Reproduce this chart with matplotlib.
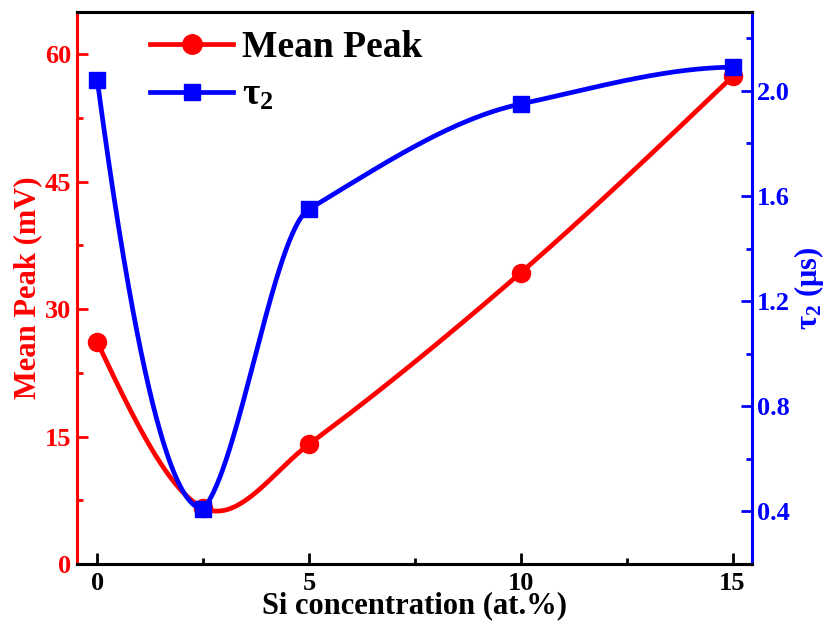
import numpy as np
import matplotlib
matplotlib.use("Agg")
import matplotlib.pyplot as plt
from matplotlib.ticker import MultipleLocator

si_conc = [0, 2.5, 5, 10, 15]
mean_peak = [26.1, 6.6, 14.1, 34.3, 57.4]
tau2 = [2.04, 0.41, 1.55, 1.95, 2.09]


def tangents_central(x, y):
    n = len(x)
    m = np.zeros(n)
    for i in range(1, n - 1):
        m[i] = (y[i + 1] - y[i - 1]) / (x[i + 1] - x[i - 1])
    m[0] = (3 * (y[1] - y[0]) / (x[1] - x[0]) - m[1]) / 2
    m[-1] = (3 * (y[-1] - y[-2]) / (x[-1] - x[-2]) - m[-2]) / 2
    return m, m.copy()


def tangents_akima(x, y):
    n = len(x)
    d = np.diff(y) / np.diff(x)
    ext = np.empty(n + 3)
    ext[2:n + 1] = d
    ext[1] = 2 * ext[2] - ext[3]
    ext[0] = 2 * ext[1] - ext[2]
    ext[n + 1] = 2 * ext[n] - ext[n - 1]
    ext[n + 2] = 2 * ext[n + 1] - ext[n]
    m = np.zeros(n)
    for i in range(n):
        dm2, dm1, d0, dp1 = ext[i], ext[i + 1], ext[i + 2], ext[i + 3]
        w1 = abs(dp1 - d0); w2 = abs(dm1 - dm2)
        m[i] = (dm1 + d0) / 2 if w1 + w2 == 0 else (w1 * dm1 + w2 * d0) / (w1 + w2)
    m_left = m.copy()
    m_right = m.copy()
    # at a local extremum let the incoming side arrive flat (sharp turn)
    for i in range(1, n - 1):
        if d[i - 1] * d[i] < 0:
            m_left[i] = 0.0
    return m_left, m_right


def hermite_curve(x, y, tangents, xs):
    m_left, m_right = tangents
    x = np.asarray(x, float); y = np.asarray(y, float)
    n = len(x)
    out = np.empty_like(xs)
    for k, xv in enumerate(xs):
        i = int(np.clip(np.searchsorted(x, xv, side='right') - 1, 0, n - 2))
        h = x[i + 1] - x[i]
        t = (xv - x[i]) / h
        out[k] = (2 * t**3 - 3 * t**2 + 1) * y[i] + (t**3 - 2 * t**2 + t) * h * m_right[i] \
            + (-2 * t**3 + 3 * t**2) * y[i + 1] + (t**3 - t**2) * h * m_left[i + 1]
    return out


plt.rcParams['font.family'] = ['Liberation Serif', 'DejaVu Serif']
plt.rcParams['font.weight'] = 'bold'
plt.rcParams['mathtext.fontset'] = 'custom'
plt.rcParams['mathtext.rm'] = 'Liberation Serif:bold'
plt.rcParams['mathtext.it'] = 'Liberation Serif:bold'
plt.rcParams['mathtext.bf'] = 'Liberation Serif:bold'

fig = plt.figure(figsize=(8.26, 6.28), dpi=100)
ax = fig.add_axes([0.0932, 0.102, 0.8168, 0.879])
ax2 = ax.twinx()

red = '#ff0000'
blue = '#0000ff'
lw = 3.4

xa = np.asarray(si_conc, float)
xs = np.linspace(0, 15, 900)
ya = np.asarray(mean_peak, float)
yb = np.asarray(tau2, float)

ax.plot(xs, hermite_curve(xa, ya, tangents_central(xa, ya), xs), color=red, lw=lw, zorder=2)
ax.plot(si_conc, mean_peak, 'o', color=red, ms=13, zorder=3)
ax2.plot(xs, hermite_curve(xa, yb, tangents_akima(xa, yb), xs), color=blue, lw=lw, zorder=2)
ax2.plot(si_conc, tau2, 's', color=blue, ms=12, zorder=3)

ax.set_xlim(-0.48, 15.45)
ax.set_ylim(0, 65)
ax2.set_ylim(0.2, 2.3)

ax.xaxis.set_major_locator(MultipleLocator(5))
ax.xaxis.set_minor_locator(MultipleLocator(2.5))
ax.yaxis.set_major_locator(MultipleLocator(15))
ax.yaxis.set_minor_locator(MultipleLocator(7.5))
ax2.yaxis.set_major_locator(MultipleLocator(0.4))
ax2.yaxis.set_minor_locator(MultipleLocator(0.2))

for a in (ax, ax2):
    for s in a.spines.values():
        s.set_linewidth(2.2)
ax.spines['left'].set_color(red)
ax2.spines['left'].set_visible(False)
ax2.spines['right'].set_color(blue)
ax.spines['right'].set_visible(False)

ax.tick_params(axis='x', which='major', direction='in', length=8, width=2, labelsize=19, pad=6, top=False)
ax.tick_params(axis='x', which='minor', direction='in', length=4, width=2, top=False)
ax.tick_params(axis='y', which='major', direction='in', length=8, width=2, colors=red, labelsize=19, pad=4)
ax.tick_params(axis='y', which='minor', direction='in', length=4, width=2, colors=red)
ax2.tick_params(axis='y', which='major', direction='in', length=8, width=2, colors=blue, labelsize=19, pad=4)
ax2.tick_params(axis='y', which='minor', direction='in', length=4, width=2, colors=blue)

ax.set_xlabel('Si concentration (at.%)', fontsize=22, fontweight='bold', labelpad=-3)
ax.set_ylabel('Mean Peak (mV)', fontsize=22, fontweight='bold', color=red, labelpad=2)
ax2.set_ylabel(r'$\tau_2$ ($\mathrm{\mu}$s)', fontsize=22, fontweight='bold', color=blue, labelpad=1)

h1, = ax.plot([], [], '-o', color=red, lw=lw, ms=14)
h2, = ax.plot([], [], '-s', color=blue, lw=lw, ms=12)
ax.legend([h1, h2], ['Mean Peak', r'$\tau_2$'], loc='upper left', bbox_to_anchor=(0.07, 1.015),
          frameon=False, prop={'family': 'Liberation Serif', 'weight': 'bold', 'size': 27},
          handlelength=2.2, handletextpad=0.25, labelspacing=0.35, borderaxespad=0.3)

fig.savefig('out.png', dpi=100)
